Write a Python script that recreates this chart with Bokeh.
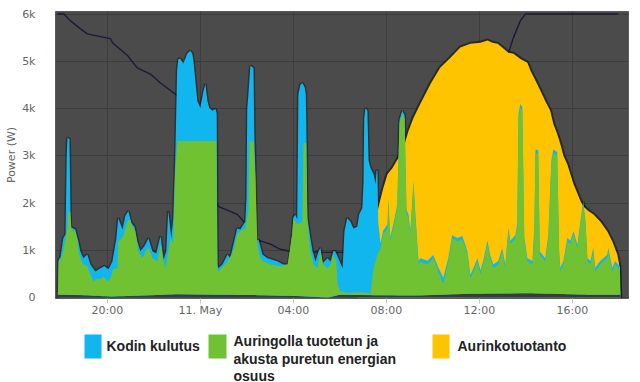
from bokeh.plotting import figure
from bokeh.models import FixedTicker, Range1d
from bokeh.layouts import column
from bokeh.embed import file_html
from bokeh.resources import INLINE
from bokeh.core.properties import value
import numpy as np

# time: minutes relative to 11 May 00:00 (negative = 10 May), value: W
kodin_kulutus = [
    (-368, 0), (-366, 800), (-361, 850), (-354, 1250), (-348, 1340), (-345, 3000), (-343, 3380),
    (-338, 3350), (-335, 1500), (-333, 1480), (-323, 1440), (-317, 1250), (-315, 1190), (-310, 980),
    (-302, 830), (-292, 910), (-284, 700), (-271, 550), (-258, 620), (-248, 660), (-237, 600),
    (-227, 760), (-217, 1250), (-212, 1680), (-201, 1440), (-194, 1720), (-186, 1830), (-178, 1570),
    (-170, 1500), (-163, 1190), (-155, 980), (-145, 1080), (-134, 1250), (-124, 980), (-114, 930),
    (-103, 1300), (-95, 800), (-88, 980), (-83, 1830), (-75, 1250), (-70, 1680), (-65, 2900),
    (-60, 4800), (-57, 5050), (-52, 5050), (-44, 4950), (-34, 5160), (-26, 5220), (-21, 5160),
    (-18, 5010), (-8, 4160), (0, 4010), (8, 4370), (13, 4520), (18, 4160), (23, 4010), (31, 3950),
    (39, 3990), (42, 3900), (44, 700), (46, 620), (57, 700), (70, 910), (77, 830), (95, 1460),
    (103, 1440), (116, 1610), (119, 2100), (121, 4000), (124, 4300), (129, 4900), (134, 4880),
    (137, 4850), (139, 3500), (142, 2600), (145, 1200), (150, 1230), (160, 910), (173, 830),
    (186, 800), (199, 760), (214, 700), (227, 700), (237, 1350), (240, 1700), (245, 1750),
    (250, 1650), (253, 4300), (258, 4500), (263, 4540), (269, 4450), (272, 4300), (274, 3300),
    (276, 1700), (284, 1250), (289, 1000), (297, 760), (305, 980), (310, 1050), (315, 720),
    (328, 830), (336, 760), (343, 980), (348, 980), (356, 830), (367, 620), (372, 1400),
    (379, 1680), (387, 1610), (395, 1460), (405, 1500), (410, 1760), (418, 1890), (421, 2400),
    (423, 3800), (426, 4010), (431, 3950), (434, 2900), (439, 2740), (447, 2610), (452, 2400),
    (455, 2700), (457, 2680), (459, 1600), (465, 1150),
    (472, 1420), (483, 1550), (485, 2100), (490, 1280), (498, 1550), (508, 1960), (514, 3760),
    (521, 3950), (527, 3860), (532, 1850), (537, 1760), (542, 1420), (550, 2460), (555, 1760),
    (563, 780), (568, 830), (586, 780), (601, 900), (614, 640), (627, 420), (640, 840), (650, 1320),
    (663, 1260), (676, 1300), (684, 1110), (689, 980), (697, 480), (705, 630), (715, 830),
    (723, 570), (730, 780), (741, 1200), (748, 900), (756, 700), (769, 770), (779, 1050),
    (787, 700), (795, 1470), (800, 1200), (813, 1320), (818, 1580), (821, 3880), (826, 4100),
    (831, 4020), (836, 1280), (844, 830), (857, 770), (862, 1480), (865, 3130), (872, 3120),
    (876, 980), (890, 830), (898, 1320), (906, 2900), (911, 3130), (921, 3080), (926, 980),
    (929, 630), (937, 770), (947, 1260), (955, 1200), (963, 1410), (973, 1110), (981, 1620),
    (988, 2040), (994, 1620), (999, 830), (1007, 770), (1014, 1050), (1019, 630), (1032, 770),
    (1040, 830), (1050, 900), (1053, 1050), (1063, 630), (1071, 770), (1079, 690), (1083, 660),
    (1084, 0),
]

aurinko_akku_osuus = [
    (-368, 0), (-366, 760), (-361, 800), (-354, 980), (-348, 1250), (-343, 1460), (-341, 1780),
    (-336, 1830), (-333, 1460), (-328, 1400), (-323, 1400), (-317, 1190), (-315, 980), (-310, 830),
    (-302, 700), (-292, 660), (-284, 490), (-276, 340), (-266, 400), (-258, 380), (-250, 450),
    (-240, 340), (-232, 400), (-225, 600), (-214, 620), (-212, 1190), (-206, 1230), (-199, 1300),
    (-188, 1610), (-181, 1650), (-176, 1500), (-168, 1400), (-160, 980), (-150, 830), (-137, 1040),
    (-132, 1020), (-124, 830), (-111, 760), (-103, 1130), (-95, 760), (-90, 620), (-83, 980),
    (-77, 1250), (-72, 1190), (-70, 1130), (-65, 2680), (-59, 3310), (41, 3310), (44, 600),
    (46, 550), (52, 600), (70, 760), (85, 980), (95, 1340), (103, 1400), (116, 1460), (124, 1830),
    (127, 3300), (137, 3300), (142, 2530), (147, 1130), (155, 830), (163, 760), (181, 700),
    (206, 660), (225, 700), (237, 1340), (240, 1680), (250, 1550), (263, 1600), (266, 3270),
    (273, 3270), (276, 1610), (284, 980), (292, 700), (302, 620), (310, 980), (317, 700),
    (328, 620), (336, 700), (343, 910), (351, 760), (354, 280), (361, 130), (380, 100), (420, 110),
    (439, 80),
    (447, 620), (457, 910), (465, 1040), (472, 1340), (483, 1460), (485, 2040), (490, 1190),
    (498, 1460), (508, 1890), (514, 3700), (521, 3880), (527, 3800), (532, 1760), (537, 1680),
    (542, 1340), (550, 2400), (555, 1680), (563, 700), (568, 760), (586, 700), (601, 830),
    (614, 550), (627, 280), (640, 760), (650, 1250), (663, 1190), (676, 1230), (684, 1040),
    (689, 910), (697, 400), (705, 550), (715, 760), (723, 490), (730, 700), (741, 1130), (748, 830),
    (756, 620), (769, 700), (779, 980), (787, 620), (795, 1400), (800, 1130), (813, 1250),
    (818, 1500), (821, 3800), (826, 4000), (831, 3950), (836, 1200), (844, 760), (857, 700),
    (862, 1400), (865, 3050), (872, 3050), (876, 900), (890, 760), (898, 1250), (906, 2820),
    (911, 3050), (921, 3000), (926, 900), (929, 550), (937, 700), (947, 1190), (955, 1130),
    (963, 1340), (973, 1040), (981, 1550), (988, 1970), (994, 1550), (999, 760), (1007, 700),
    (1014, 980), (1019, 550), (1032, 700), (1040, 760), (1050, 830), (1053, 980), (1063, 550),
    (1071, 700), (1079, 620), (1083, 600), (1084, 0),
]

# lower edge of the green area (dark strip near zero)
osuus_alaraja = [
    (-368, 60), (-300, 50), (-230, 20), (-150, 40), (-60, 70), (40, 60), (150, 50), (250, 30),
    (330, 0), (360, 60), (450, 50), (550, 40), (700, 80), (850, 90), (1000, 60), (1084, 60),
]

aurinkotuotanto = [
    (400, 0), (430, 150), (447, 700), (452, 1300), (459, 1890), (472, 2310), (483, 2610),
    (496, 2740), (511, 2950), (524, 3160), (537, 3520), (550, 3800), (568, 4100), (594, 4520),
    (619, 4860), (645, 5070), (671, 5290), (697, 5370), (723, 5390), (741, 5440), (754, 5390),
    (767, 5370), (779, 5290), (795, 5180), (808, 5160), (826, 5050), (844, 4970), (852, 4800),
    (865, 4590), (878, 4370), (890, 4160), (903, 3950), (911, 3670), (921, 3460), (929, 3250),
    (937, 3000), (947, 2820), (963, 2400), (981, 2040), (988, 1930), (1001, 1830), (1014, 1760),
    (1032, 1610), (1050, 1400), (1063, 1190), (1076, 910), (1081, 700), (1084, 0),
]

akun_varaus = [
    (-369, 6000), (-352, 6000), (-336, 5860), (-310, 5690), (-292, 5580), (-258, 5520),
    (-232, 5480), (-227, 5390), (-188, 5120), (-163, 4860), (-129, 4730), (-103, 4540),
    (-59, 4270), (46, 1930), (95, 1760), (116, 1570), (142, 1230), (181, 1130), (206, 1020),
    (232, 980), (310, 960), (465, 950), (795, 5180), (808, 5500), (826, 5860), (839, 6000),
    (1079, 6000),
]

x_ticks = [-240, 0, 240, 480, 720, 960]
x_labels = ["20:00", "11. May", "04:00", "08:00", "12:00", "16:00"]
y_ticks = [0, 1000, 2000, 3000, 4000, 5000, 6000]
y_labels = ["0", "1k", "2k", "3k", "4k", "5k", "6k"]

legend_labels = ["Kodin kulutus", "Auringolla tuotetun ja\nakusta puretun energian\nosuus", "Aurinkotuotanto"]
c_blue = "#12b6ee"
c_green = "#70c232"
c_yellow = "#fec400"


def unz(pairs):
    return [a for a, _ in pairs], [b for _, b in pairs]


p = figure(width=640, height=324, x_range=Range1d(-374, 1105), y_range=Range1d(-21, 6053),
           output_backend="svg", toolbar_location=None,
           min_border_left=55, min_border_right=12, min_border_top=11, min_border_bottom=26)
p.background_fill_color = "#4b4b4b"
p.border_fill_color = "white"
p.outline_line_color = "#5a5a5a"

p.xaxis.ticker = FixedTicker(ticks=x_ticks)
p.xaxis.major_label_overrides = dict(zip(x_ticks, x_labels))
p.yaxis.ticker = FixedTicker(ticks=y_ticks)
p.yaxis.major_label_overrides = dict(zip(y_ticks, y_labels))
for ax in (p.xaxis[0], p.yaxis[0]):
    ax.axis_line_color = None
    ax.minor_tick_line_color = None
    ax.major_label_text_color = "#666666"
    ax.major_label_text_font = "DejaVu Sans"
    ax.major_label_text_font_size = "11px"
p.xaxis.major_tick_line_color = "#c8c8c8"
p.xaxis.major_tick_out = 5
p.xaxis.major_tick_in = 0
p.xaxis.major_label_standoff = 0
p.yaxis.major_tick_line_color = None
p.yaxis.major_tick_out = 0
p.yaxis.major_tick_in = 0
p.yaxis.major_label_standoff = 20
p.yaxis.axis_label = "Power (W)"
p.yaxis.axis_label_text_font = "DejaVu Sans"
p.yaxis.axis_label_text_font_size = "11px"
p.yaxis.axis_label_text_font_style = "normal"
p.yaxis.axis_label_text_color = "#666666"
p.yaxis.axis_label_standoff = 1
p.grid.grid_line_color = "#3d3d3d"
p.grid.grid_line_width = 1

bt, bv = unz(kodin_kulutus)
gt, gv = unz(aurinko_akku_osuus)
yt, yv = unz(aurinkotuotanto)
lt, lv = unz(akun_varaus)
at, av = unz(osuus_alaraja)

# battery line (drawn beneath the areas)
p.line(lt, lv, line_color="#1d1838", line_width=1.4)

# shadows
p.line(yt, yv, line_color="black", line_alpha=0.45, line_width=4)
p.line(bt, bv, line_color="black", line_alpha=0.35, line_width=3)

p.varea(x=yt, y1=0, y2=yv, fill_color=c_yellow)
p.varea(x=bt, y1=0, y2=bv, fill_color=c_blue)
p.varea(x=at, y1=0, y2=av, fill_color="#3a3a3a")

base_on_green = np.interp(gt, at, av)
p.varea(x=gt, y1=base_on_green, y2=gv, fill_color=c_green)

# legend (its frame is aligned with the main frame: x 55..628 in page pixels)
lg = figure(width=640, height=58, x_range=Range1d(55, 628), y_range=Range1d(58, 0),
            output_backend="svg", toolbar_location=None,
            min_border_left=55, min_border_right=12, min_border_top=0, min_border_bottom=0,
            x_axis_type=None, y_axis_type=None)
lg.grid.visible = False
lg.outline_line_color = None
lg.background_fill_color = "white"
lg.border_fill_color = "white"
lg.quad(left=[84, 208, 432], right=[101, 226, 449], top=[10, 10, 10], bottom=[34, 34, 34],
        fill_color=[c_blue, c_green, c_yellow], line_color=None)
lines2 = legend_labels[1].split("\n")
lg.text(x=[106, 233, 233, 233, 457], y=[21, 16, 34, 51, 21],
        text=[legend_labels[0]] + lines2 + [legend_labels[2]],
        text_baseline="alphabetic", text_align="left",
        text_font=value("Liberation Sans"),
        text_font_size="14px", text_font_style="bold", text_color="#222222")

layout = column(p, lg, spacing=0)
open("out.html", "w").write(file_html(layout, INLINE))
